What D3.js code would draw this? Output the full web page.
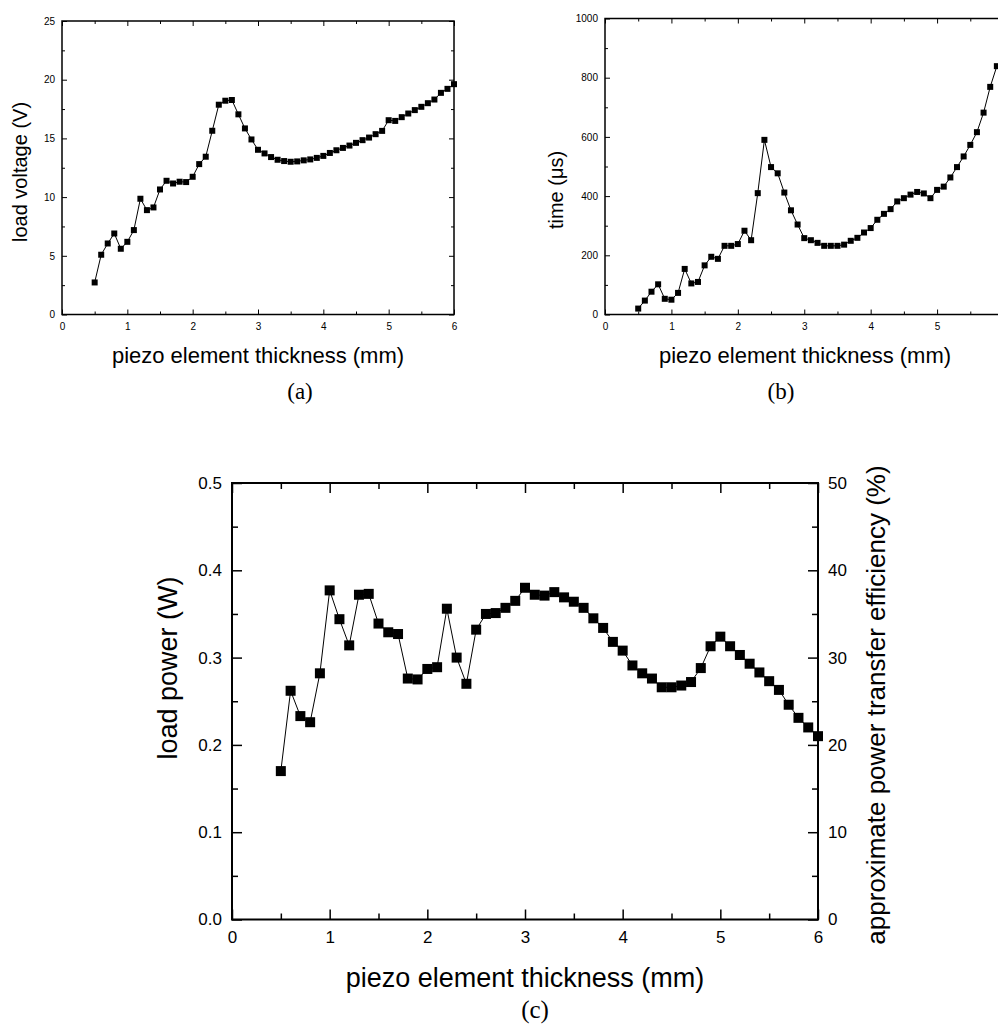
<!DOCTYPE html>
<html>
<head>
<meta charset="utf-8">
<script src="https://cdn.jsdelivr.net/npm/d3@7"></script>
<style>
  body { margin: 0; background: #fff; }
  svg { display: block; }
  text { font-family: "Liberation Sans", Arial, sans-serif; fill: #000; }
  .serif { font-family: "Liberation Serif", "DejaVu Serif", serif; }
</style>
</head>
<body>
<div id="chart"></div>
<script>
// thickness of the piezo element (mm)
var thickness = [0.5, 0.6, 0.7, 0.8, 0.9, 1.0, 1.1, 1.2, 1.3, 1.4,
  1.5, 1.6, 1.7, 1.8, 1.9, 2.0, 2.1, 2.2, 2.3, 2.4,
  2.5, 2.6, 2.7, 2.8, 2.9, 3.0, 3.1, 3.2, 3.3, 3.4,
  3.5, 3.6, 3.7, 3.8, 3.9, 4.0, 4.1, 4.2, 4.3, 4.4,
  4.5, 4.6, 4.7, 4.8, 4.9, 5.0, 5.1, 5.2, 5.3, 5.4,
  5.5, 5.6, 5.7, 5.8, 5.9, 6.0];

// (a) load voltage (V)
var loadVoltage = [2.73, 5.09, 6.05, 6.90, 5.60, 6.19, 7.19, 9.86, 8.89, 9.12,
  10.65, 11.39, 11.16, 11.31, 11.28, 11.73, 12.81, 13.44, 15.65, 17.87,
  18.21, 18.27, 17.05, 15.85, 14.91, 14.03, 13.72, 13.41, 13.18, 13.07,
  13.01, 13.04, 13.13, 13.21, 13.34, 13.51, 13.76, 13.99, 14.19, 14.39,
  14.62, 14.85, 15.07, 15.36, 15.64, 16.55, 16.49, 16.81, 17.12, 17.41,
  17.69, 18.00, 18.31, 18.88, 19.22, 19.62];

// (b) time (us), visible points only (0.5 .. 5.9)
var timeUs = [20, 47, 77, 102, 53, 50, 73, 154, 105, 110,
  166, 195, 188, 232, 232, 238, 283, 251, 410, 590,
  498, 477, 412, 352, 304, 258, 251, 242, 232, 232,
  232, 236, 249, 259, 277, 292, 320, 340, 356, 382,
  393, 405, 414, 409, 393, 421, 432, 463, 498, 534,
  573, 616, 682, 769, 839];

// (c) load power (W)
var loadPower = [0.170, 0.262, 0.233, 0.226, 0.282, 0.377, 0.344, 0.314, 0.372, 0.373,
  0.339, 0.329, 0.327, 0.276, 0.275, 0.287, 0.289, 0.356, 0.300, 0.270,
  0.332, 0.350, 0.351, 0.357, 0.365, 0.380, 0.372, 0.371, 0.375, 0.369,
  0.364, 0.357, 0.345, 0.334, 0.318, 0.308, 0.291, 0.282, 0.276, 0.266,
  0.266, 0.268, 0.272, 0.288, 0.313, 0.324, 0.313, 0.303, 0.293, 0.283,
  0.273, 0.263, 0.246, 0.231, 0.220, 0.210];

var xTicks = [0, 1, 2, 3, 4, 5, 6];
var xTicksB = [0, 1, 2, 3, 4, 5];   // the 6 of panel (b) falls off the page
var xMinor = [0.5, 1.5, 2.5, 3.5, 4.5, 5.5];
var voltTicks = [0, 5, 10, 15, 20, 25];
var voltMinor = [2.5, 7.5, 12.5, 17.5, 22.5];
var timeTicks = [0, 200, 400, 600, 800, 1000];
var timeMinor = [100, 300, 500, 700, 900];
var powerTicks = [0.0, 0.1, 0.2, 0.3, 0.4, 0.5];
var powerMinor = [0.05, 0.15, 0.25, 0.35, 0.45];
var effTicks = [0, 10, 20, 30, 40, 50];
var effMinor = [5, 15, 25, 35, 45];

var svg = d3.select("#chart")
  .append("svg")
  .attr("width", 998)
  .attr("height", 1024);

// draws frame + inward ticks on all four sides
function frame(x, y, o) {
  var x0 = x.range()[0], x1 = x.range()[1];
  var y0 = y.range()[0], y1 = y.range()[1];
  var g = svg.append("g");

  function ax(axis, tx, ty, vals, len, labels, pad) {
    var a = axis.tickValues(vals).tickSizeOuter(0).tickSize(-len).tickPadding(pad || 0);
    if (!labels) a.tickFormat("");
    else a.tickFormat(labels);
    var sel = g.append("g")
      .attr("transform", `translate(${tx}, ${ty})`)
      .call(a);
    sel.select(".domain").remove();
    sel.selectAll("line").attr("stroke", "#000").attr("stroke-width", o.tickW);
    sel.selectAll("text").attr("font-size", o.font).attr("font-family", "Liberation Sans, Arial, sans-serif");
    return sel;
  }

  // bottom: ticks everywhere, labels only where given
  ax(d3.axisBottom(x), 0, y0, xTicks, o.major);
  ax(d3.axisBottom(x), 0, y0, o.xLabels || xTicks, 0, d3.format("d"), o.padX);
  ax(d3.axisBottom(x), 0, y0, xMinor, o.minor);
  // top
  ax(d3.axisTop(x), 0, y1, xTicks, o.major);
  ax(d3.axisTop(x), 0, y1, xMinor, o.minor);
  // left
  ax(d3.axisLeft(y), x0, 0, o.yTicks, o.major, o.yFormat, o.padY);
  ax(d3.axisLeft(y), x0, 0, o.yMinor, o.minor);
  // right
  if (o.y2) {
    ax(d3.axisRight(o.y2), x1, 0, o.y2Ticks, o.major, d3.format("d"), o.padY2);
    ax(d3.axisRight(o.y2), x1, 0, o.y2Minor, o.minor);
  } else {
    ax(d3.axisRight(y), x1, 0, o.yTicks, o.major);
    ax(d3.axisRight(y), x1, 0, o.yMinor, o.minor);
  }

  g.append("rect")
    .attr("x", x0)
    .attr("y", y1)
    .attr("width", x1 - x0)
    .attr("height", y0 - y1)
    .attr("fill", "none")
    .attr("stroke", "#000")
    .attr("stroke-width", o.frameW);
}

function series(x, y, xs, ys, size, lineW) {
  var pts = ys.map(function(v, i) { return [xs[i], v]; });
  var line = d3.line()
    .x(d => x(d[0]))
    .y(d => y(d[1]));

  svg.append("path")
    .datum(pts)
    .attr("d", line)
    .attr("fill", "none")
    .attr("stroke", "#000")
    .attr("stroke-width", lineW);

  svg.append("g").selectAll("rect")
    .data(pts)
    .enter()
    .append("rect")
    .attr("x", d => x(d[0]) - size / 2)
    .attr("y", d => y(d[1]) - size / 2)
    .attr("width", size)
    .attr("height", size)
    .attr("fill", "#000");
}

// ---------- (a) ----------
var xA = d3.scaleLinear().domain([0, 6]).range([62, 454]);
var yA = d3.scaleLinear().domain([0, 25]).range([314.5, 21]);

frame(xA, yA, {
  major: 5, minor: 3, tickW: 1, frameW: 1.5, font: 10,
  padX: 8, padY: 7,
  yTicks: voltTicks, yMinor: voltMinor, yFormat: d3.format("d")
});
series(xA, yA, thickness, loadVoltage, 6, 1);

svg.append("text")
  .attr("transform", "translate(20, 172) rotate(-90)")
  .attr("text-anchor", "middle")
  .attr("dy", "0.35em")
  .attr("font-size", 20)
  .text("load voltage (V)");

svg.append("text")
  .attr("x", 258)
  .attr("y", 363)
  .attr("text-anchor", "middle")
  .attr("font-size", 22)
  .text("piezo element thickness (mm)");

svg.append("text")
  .attr("class", "serif")
  .attr("x", 300)
  .attr("y", 399)
  .attr("text-anchor", "middle")
  .attr("font-size", 23)
  .text("(a)");

// ---------- (b) ----------
var xB = d3.scaleLinear().domain([0, 6]).range([605, 1003.5]);
var yB = d3.scaleLinear().domain([0, 1000]).range([314.5, 18.5]);

frame(xB, yB, {
  major: 5, minor: 3, tickW: 1, frameW: 1.5, font: 10,
  padX: 8, padY: 7, xLabels: xTicksB,
  yTicks: timeTicks, yMinor: timeMinor, yFormat: d3.format("d")
});
series(xB, yB, thickness.slice(0, timeUs.length), timeUs, 6, 1);

svg.append("text")
  .attr("transform", "translate(556, 190) rotate(-90)")
  .attr("text-anchor", "middle")
  .attr("dy", "0.35em")
  .attr("font-size", 20)
  .text("time  (\u03bcs)");

svg.append("text")
  .attr("x", 805)
  .attr("y", 363)
  .attr("text-anchor", "middle")
  .attr("font-size", 22)
  .text("piezo element thickness (mm)");

svg.append("text")
  .attr("class", "serif")
  .attr("x", 781)
  .attr("y", 399)
  .attr("text-anchor", "middle")
  .attr("font-size", 23)
  .text("(b)");

// ---------- (c) ----------
var xC = d3.scaleLinear().domain([0, 6]).range([232, 818]);
var yC = d3.scaleLinear().domain([0, 0.5]).range([919.5, 483]);
var yC2 = d3.scaleLinear().domain([0, 50]).range([919.5, 483]);

frame(xC, yC, {
  major: 10, minor: 6, tickW: 1.5, frameW: 2, font: 17,
  padX: 11, padY: 10, padY2: 10,
  yTicks: powerTicks, yMinor: powerMinor, yFormat: d3.format(".1f"),
  y2: yC2, y2Ticks: effTicks, y2Minor: effMinor
});
series(xC, yC, thickness, loadPower, 10, 1);

svg.append("text")
  .attr("transform", "translate(168, 668) rotate(-90)")
  .attr("text-anchor", "middle")
  .attr("dy", "0.35em")
  .attr("font-size", 27)
  .text("load power  (W)");

svg.append("text")
  .attr("transform", "translate(876, 705) rotate(-90)")
  .attr("text-anchor", "middle")
  .attr("dy", "0.35em")
  .attr("font-size", 26)
  .text("approximate power transfer efficiency (%)");

svg.append("text")
  .attr("x", 525)
  .attr("y", 987)
  .attr("text-anchor", "middle")
  .attr("font-size", 27)
  .text("piezo element thickness (mm)");

svg.append("text")
  .attr("class", "serif")
  .attr("x", 535)
  .attr("y", 1018)
  .attr("text-anchor", "middle")
  .attr("font-size", 25)
  .text("(c)");
</script>
</body>
</html>
